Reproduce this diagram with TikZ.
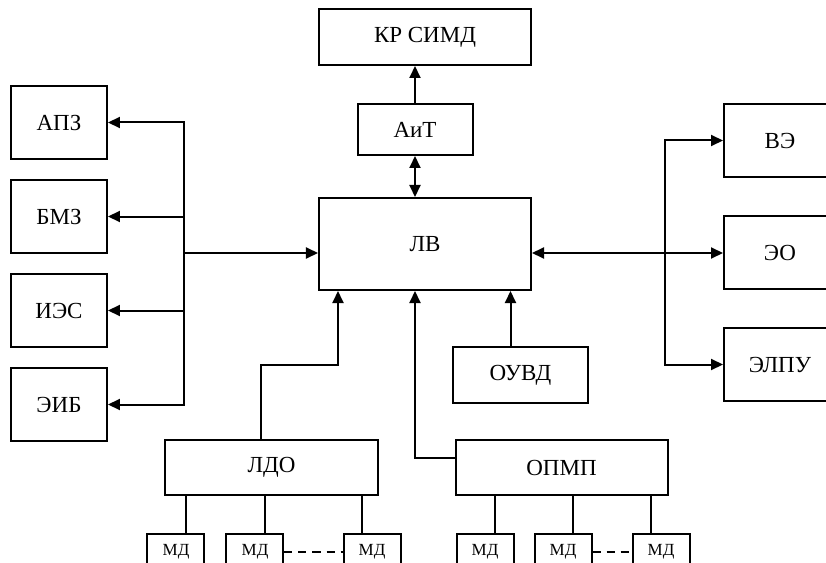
\documentclass[tikz,border=0pt]{standalone}
\usepackage{fontspec}
\setmainfont{Liberation Serif}
\usetikzlibrary{positioning,arrows.meta}

\begin{document}
\begin{tikzpicture}[
			>={Triangle[length=12pt,width=11pt]},
			line width=2pt,
			every node/.style={
				draw,
				line width=2pt,
				align=center,
				inner sep=2pt,
				font=\fontsize{23}{27}\selectfont
			},
			sidebox/.style={minimum width=96pt, minimum height=73pt},
			rightbox/.style={minimum width=112pt, minimum height=73pt},
			widebox/.style={minimum width=212pt, minimum height=55pt},
			mdbox/.style={minimum width=57pt, minimum height=36pt,
				font=\fontsize{17}{20}\selectfont}
			]
			
			\useasboundingbox (-425pt,-318pt) rectangle (401pt,244pt);
			
			%%%%%%%%%%%%%%%%%%%%%%%%%%%%%%%%%%%%%%%%%%%%%%%%%%%%%%%%%%%%
			% Centre
			%%%%%%%%%%%%%%%%%%%%%%%%%%%%%%%%%%%%%%%%%%%%%%%%%%%%%%%%%%%%
			
			\node[minimum width=212pt, minimum height=92pt] (lv) {ЛВ};
			
			\node[minimum width=115pt, minimum height=51pt,
				above=41pt of lv, xshift=-10pt] (ait) {АиТ};
			
			\node[widebox, minimum height=56pt,
				above=37pt of ait, xshift=10pt] (kr) {КР СИМД};
			
			%%%%%%%%%%%%%%%%%%%%%%%%%%%%%%%%%%%%%%%%%%%%%%%%%%%%%%%%%%%%
			% Left Column
			%%%%%%%%%%%%%%%%%%%%%%%%%%%%%%%%%%%%%%%%%%%%%%%%%%%%%%%%%%%%
			
			\node[sidebox, above left=37pt and 210pt of lv] (apz) {АПЗ};
			
			\node[sidebox, below=19pt of apz] (bmz) {БМЗ};
			
			\node[sidebox, below=19pt of bmz] (ies) {ИЭС};
			
			\node[sidebox, below=19pt of ies] (eib) {ЭИБ};
			
			%%%%%%%%%%%%%%%%%%%%%%%%%%%%%%%%%%%%%%%%%%%%%%%%%%%%%%%%%%%%
			% Right Column
			%%%%%%%%%%%%%%%%%%%%%%%%%%%%%%%%%%%%%%%%%%%%%%%%%%%%%%%%%%%%
			
			\node[rightbox, above right=19pt and 191pt of lv] (ve) {ВЭ};
			
			\node[rightbox, below=37pt of ve] (eo) {ЭО};
			
			\node[rightbox, below=37pt of eo] (elpu) {ЭЛПУ};
			
			%%%%%%%%%%%%%%%%%%%%%%%%%%%%%%%%%%%%%%%%%%%%%%%%%%%%%%%%%%%%
			% Bottom Layer
			%%%%%%%%%%%%%%%%%%%%%%%%%%%%%%%%%%%%%%%%%%%%%%%%%%%%%%%%%%%%
			
			\node[minimum width=135pt, minimum height=56pt,
				below=55pt of lv, xshift=95.5pt] (ouvd) {ОУВД};
			
			\node[widebox, below=148pt of lv, xshift=-153.5pt] (ldo) {ЛДО};
			
			\node[widebox, right=76pt of ldo] (opmp) {ОПМП};
			
			% sensors under LDO
			
			\node[mdbox, below=37pt of ldo, xshift=-95.5pt] (md1) {МД};
			
			\node[mdbox, right=20pt of md1] (md2) {МД};
			
			\node[mdbox, right=58pt of md2] (md3) {МД};
			
			% sensors under OPMP
			
			\node[mdbox, below=37pt of opmp, xshift=-76.5pt] (md4) {МД};
			
			\node[mdbox, right=19pt of md4] (md5) {МД};
			
			\node[mdbox, right=39pt of md5] (md6) {МД};
			
			%%%%%%%%%%%%%%%%%%%%%%%%%%%%%%%%%%%%%%%%%%%%%%%%%%%%%%%%%%%%
			% Connections
			%%%%%%%%%%%%%%%%%%%%%%%%%%%%%%%%%%%%%%%%%%%%%%%%%%%%%%%%%%%%
			
			\coordinate (lvin) at ([yshift=-9pt]lv.west);
			\coordinate (lvout) at ([yshift=-9pt]lv.east);
			\coordinate (lbus) at ([xshift=-134pt]lvin);
			\coordinate (rbus) at ([xshift=133pt]lvout);
			
			% Top
			
			\draw[->] (ait) -- (ait |- kr.south);
			
			\draw[<->] (ait) -- (ait |- lv.north);
			
			% Left bus
			
			\draw[->] (lbus) -- (lvin);
			
			\draw[<->] (apz.east) -| (lbus) |- (eib.east);
			
			\draw[->] (lbus |- bmz.east) -- (bmz.east);
			
			\draw[->] (lbus |- ies.east) -- (ies.east);
			
			% Right bus
			
			\draw[<->] (lvout) -- (lvout -| eo.west);
			
			\draw[<->] (ve.west) -| (rbus) |- (elpu.west);
			
			% Bottom inputs
			
			\draw[->] ([xshift=-10pt]ldo.north) -- ++(0,74pt)
				-| ([xshift=20pt]lv.south west);
			
			\draw[->] ([yshift=10pt]opmp.west) -| ([xshift=-10pt]lv.south);
			
			\draw[->] ([xshift=-10pt]ouvd.north)
				-- ([xshift=-10pt]ouvd.north |- lv.south);
			
			% Sensors
			
			\draw ([xshift=10pt]md1.north) -- ([xshift=10pt]md1.north |- ldo.south);
			
			\draw ([xshift=10pt]md2.north) -- ([xshift=10pt]md2.north |- ldo.south);
			
			\draw ([xshift=-10pt]md3.north) -- ([xshift=-10pt]md3.north |- ldo.south);
			
			\draw ([xshift=10pt]md4.north) -- ([xshift=10pt]md4.north |- opmp.south);
			
			\draw ([xshift=10pt]md5.north) -- ([xshift=10pt]md5.north |- opmp.south);
			
			\draw ([xshift=-10pt]md6.north) -- ([xshift=-10pt]md6.north |- opmp.south);
			
			\draw[dash pattern=on 8pt off 6pt] (md2) -- (md3);
			
			\draw[dash pattern=on 8pt off 6pt] (md5) -- (md6);
			
			%%%%%%%%%%%%%%%%%%%%%%%%%%%%%%%%%%%%%%%%%%%%%%%%%%%%%%%%%%%%
			
		\end{tikzpicture}
\end{document}
